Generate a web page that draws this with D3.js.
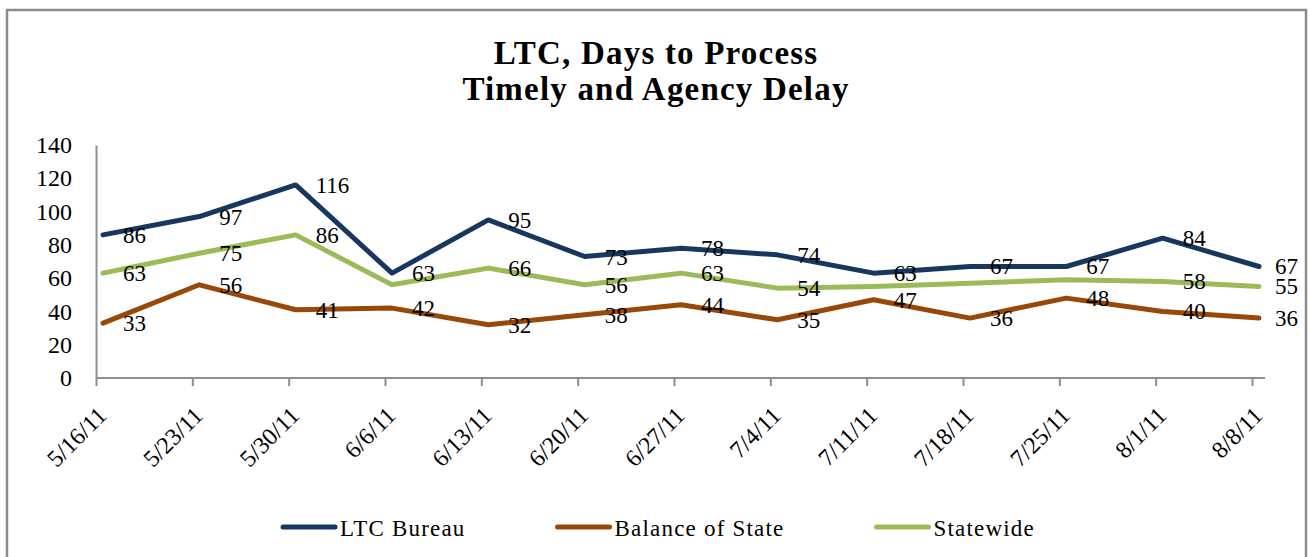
<!DOCTYPE html>
<html>
<head>
<meta charset="utf-8">
<script src="https://cdn.jsdelivr.net/npm/d3@7"></script>
<style>
	body { margin: 0; background: #fff; }
	svg { display: block; font-family: "Liberation Serif", "Times New Roman", serif; }
</style>
</head>
<body>
<div id="chart"></div>
<script>

var weeks = ["5/16/11", "5/23/11", "5/30/11", "6/6/11", "6/13/11", "6/20/11", "6/27/11",
	"7/4/11", "7/11/11", "7/18/11", "7/25/11", "8/1/11", "8/8/11"];
var ltcBureau = [86, 97, 116, 63, 95, 73, 78, 74, 63, 67, 67, 84, 67];
var balanceOfState = [33, 56, 41, 42, 32, 38, 44, 35, 47, 36, 48, 40, 36];
var statewide = [63, 75, 86, 56, 66, 56, 63, 54, 55, 57, 59, 58, 55];
// statewide labels that are shown in the original (some were left off)
var statewideShown = [true, true, true, false, true, true, true, true, false, false, false, true, true];
var yTicks = [0, 20, 40, 60, 80, 100, 120, 140];
var titleLines = ["LTC, Days to Process", "Timely and Agency Delay"];

var width = 1309, height = 557;

var svg = d3.select("#chart").append("svg")
	.attr("width", width)
	.attr("height", height);

// outer frame
svg.append("rect")
	.attr("x", 7)
	.attr("y", 10)
	.attr("width", 1299)
	.attr("height", 570)
	.attr("fill", "none")
	.attr("stroke", "#8c8c8c")
	.attr("stroke-width", 2.5);

svg.selectAll(".title")
	.data(titleLines)
	.enter().append("text")
	.attr("class", "title")
	.attr("x", 656)
	.attr("y", function(d, i) { return 64 + i * 36; })
	.attr("text-anchor", "middle")
	.style("font-size", "33px")
	.style("font-weight", "bold")
	.style("letter-spacing", "1.2px")
	.text(function(d) { return d; });

var x = d3.scalePoint()
	.domain(weeks)
	.range([96, 1252]);
var pointShift = 7;	// points sit a little right of the ticks

var y = d3.scaleLinear()
	.domain([0, 140])
	.range([378, 145]);

// y axis
var yAxis = svg.append("g")
	.attr("transform", "translate(96,0)")
	.call(d3.axisLeft(y).tickValues(yTicks).tickSize(0).tickPadding(24));
yAxis.select(".domain").attr("stroke", "#8e8e8e").attr("stroke-width", 2);
yAxis.selectAll("text")
	.attr("fill", "#000")
	.style("font-size", "24px")
	.style("font-family", "Liberation Serif, serif");

// x axis
var xAxis = svg.append("g")
	.attr("transform", "translate(0,378)")
	.call(d3.axisBottom(x).tickSize(8).tickSizeOuter(0).tickFormat(""));
xAxis.select(".domain")
	.attr("d", "M96,0H1265")
	.attr("stroke", "#8e8e8e")
	.attr("stroke-width", 2);
xAxis.selectAll(".tick line").attr("stroke", "#8e8e8e").attr("stroke-width", 2);

svg.append("g").selectAll("text")
	.data(weeks)
	.enter().append("text")
	.attr("transform", function(d) { return "translate(" + (x(d) + 12) + ",417) rotate(-45)"; })
	.attr("text-anchor", "end")
	.style("font-size", "24px")
	.text(function(d) { return d; });

var series = [
	{ name: "LTC Bureau", values: ltcBureau, color: "#17375E", shown: null },
	{ name: "Balance of State", values: balanceOfState, color: "#984807", shown: null },
	{ name: "Statewide", values: statewide, color: "#9BBB59", shown: statewideShown }
];

var line = d3.line()
	.x(function(d, i) { return x(weeks[i]) + pointShift; })
	.y(function(d) { return y(d); });

series.forEach(function(s) {
	svg.append("path")
		.datum(s.values)
		.attr("d", line)
		.attr("fill", "none")
		.attr("stroke", s.color)
		.attr("stroke-width", 5)
		.attr("stroke-linejoin", "round")
		.attr("stroke-linecap", "round");
});

// data labels, to the right of each point, kept inside the frame
series.forEach(function(s) {
	var pts = [];
	s.values.forEach(function(v, i) {
		if (!s.shown || s.shown[i]) pts.push({ week: weeks[i], value: v });
	});
	svg.append("g").selectAll("text")
		.data(pts)
		.enter().append("text")
		.attr("y", function(d) { return y(d.value) + 8; })
		.style("font-size", "23px")
		.text(function(d) { return d.value; })
		.each(function(d) {
			var w = this.getComputedTextLength();
			var px = x(d.week) + pointShift + 20;
			d3.select(this).attr("x", Math.min(px, 1298 - w));
		});
});

// legend
var legend = svg.append("g");
var items = legend.selectAll("g")
	.data(series)
	.enter().append("g");
items.append("line")
	.attr("x1", 0).attr("x2", 52)
	.attr("y1", 0).attr("y2", 0)
	.attr("stroke", function(d) { return d.color; })
	.attr("stroke-width", 5)
	.attr("stroke-linecap", "round");
items.append("text")
	.attr("x", 57)
	.attr("y", 9)
	.style("font-size", "23px")
	.style("letter-spacing", "1.2px")
	.text(function(d) { return d.name; });

var gap = 92, offsets = [], total = 0;
items.each(function(d, i) {
	var w = 57 + d3.select(this).select("text").node().getComputedTextLength();
	offsets.push(total);
	total += w + (i < series.length - 1 ? gap : 0);
});
var start = 659 - total / 2;
items.attr("transform", function(d, i) { return "translate(" + (start + offsets[i]) + ",527)"; });

</script>
</body>
</html>
